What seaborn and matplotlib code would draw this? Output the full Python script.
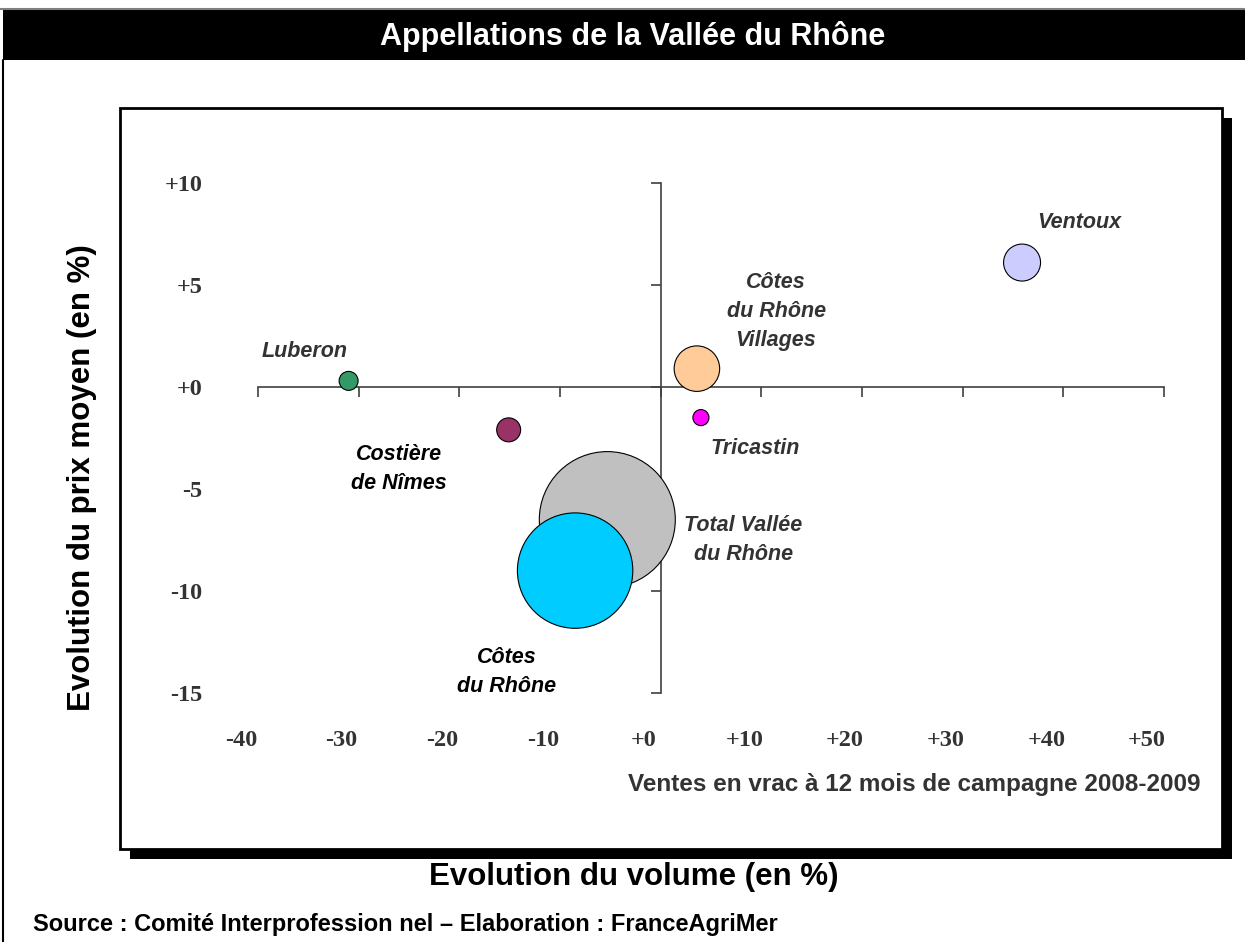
import matplotlib
matplotlib.use("Agg")
import matplotlib.pyplot as plt
from matplotlib.patches import Rectangle
from matplotlib.lines import Line2D
from matplotlib.transforms import ScaledTranslation
import seaborn as sns
import pandas as pd

# ---------------- data ----------------
appellations = ["Total Vallée du Rhône", "Côtes du Rhône", "Côtes du Rhône Villages",
                "Ventoux", "Costière de Nîmes", "Luberon", "Tricastin"]
vol_change = [-5.3, -8.5, 3.6, 35.9, -15.1, -31.0, 4.0]      # Evolution du volume (%)
price_change = [-6.5, -9.0, 0.9, 6.1, -2.1, 0.3, -1.5]       # Evolution du prix moyen (%)
bubble_size = [100, 72, 11.2, 7.4, 3.1, 1.95, 1.4]           # relative volume
colors = ["#C0C0C0", "#00CCFF", "#FFCC99", "#CCCCFF", "#993366", "#339966", "#FF00FF"]
labels = ["Total Vallée\ndu Rhône", "Côtes\ndu Rhône", "Côtes\ndu Rhône\nVillages",
          "Ventoux", "Costière\nde Nîmes", "Luberon", "Tricastin"]
label_colors = ["#333333", "#000000", "#333333", "#333333", "#000000", "#333333", "#333333"]
label_offsets = [(98, -15), (-49, -73), (57, 41), (41, 29), (-79, -28), (-32, 21), (39, -22)]

x_ticks = [-40, -30, -20, -10, 0, 10, 20, 30, 40, 50]
y_ticks = [10, 5, 0, -5, -10, -15]

df = pd.DataFrame({"appellation": appellations, "volume": vol_change,
                   "prix": price_change, "taille": bubble_size})

# ---------------- figure ----------------
W, H = 1245, 942
sns.set_theme(style="white")
plt.rcParams["font.family"] = ["Liberation Sans", "DejaVu Sans"]

fig = plt.figure(figsize=(W / 100, H / 100), dpi=100)
fig.patch.set_facecolor("white")


def fx(px):
    return px / W


def fy(py):
    return 1 - py / H


# decorations: title bar, frame, inner box with shadow
fig.add_artist(Line2D([0, 1], [fy(9), fy(9)], color="#808080", lw=1.5))
fig.add_artist(Rectangle((fx(3), fy(60)), fx(1245 - 3), 50 / H, facecolor="black",
                         edgecolor="none"))
fig.add_artist(Line2D([fx(3), fx(3)], [fy(60), 0], color="black", lw=1.5))
fig.add_artist(Rectangle((fx(130), fy(859)), fx(1232 - 130), (859 - 118) / H,
                         facecolor="black", edgecolor="none", zorder=0))
fig.add_artist(Rectangle((fx(120), fy(849)), fx(1222 - 120), (849 - 108) / H,
                         facecolor="white", edgecolor="black", lw=2, zorder=0.5))

fig.text(fx(633), fy(37), "Appellations de la Vallée du Rhône", color="white",
         fontsize=22, fontweight="bold", ha="center", va="center")
fig.text(fx(82), fy(478), "Evolution du prix moyen (en %)", rotation=90,
         fontsize=22.5, fontweight="bold", ha="center", va="center", color="black")
fig.text(fx(634), fy(877), "Evolution du volume (en %)", fontsize=22.5,
         fontweight="bold", ha="center", va="center", color="black")
fig.text(fx(33), fy(924), "Source : Comité Interprofession nel – Elaboration : FranceAgriMer",
         fontsize=17, fontweight="bold", ha="left", va="center", color="black")
fig.text(fx(1200), fy(784), "Ventes en vrac à 12 mois de campagne 2008-2009",
         fontsize=17.5, fontweight="bold", ha="right", va="center", color="#333333")

# ---------------- axes ----------------
ax = fig.add_axes([fx(258), fy(693), fx(1164 - 258), (693 - 183) / H])
ax.set_facecolor("none")
ax.set_zorder(2)

px_to_pt = 0.72
smax = (136 * px_to_pt) ** 2
sns.scatterplot(data=df, x="volume", y="prix", hue="appellation",
                palette=dict(zip(appellations, colors)), size="taille",
                sizes=(0, smax), size_norm=(0, 100), legend=False,
                edgecolor="black", linewidth=0.8, ax=ax, clip_on=False, zorder=3)

ax.set_xlim(x_ticks[0], x_ticks[-1])
ax.set_ylim(y_ticks[-1], y_ticks[0])
ax.set_xlabel("")
ax.set_ylabel("")

for side in ["top", "right"]:
    ax.spines[side].set_visible(False)
ax.spines["left"].set_position(("data", 0))
ax.spines["bottom"].set_position(("data", 0))
for side in ["left", "bottom"]:
    ax.spines[side].set_color("#404040")
    ax.spines[side].set_linewidth(1.2)
    ax.spines[side].set_zorder(1)
ax.set_xticks(x_ticks)
ax.set_yticks(y_ticks)
ax.tick_params(axis="both", direction="out", length=7, width=1.2, color="#404040",
               labelbottom=False, labelleft=False, bottom=True, left=True)

# tick labels placed at the plot edges
serif = {"family": ["Liberation Serif", "DejaVu Serif"], "weight": "bold", "size": 17.5}
secx = ax.secondary_xaxis("bottom")
secx.set_xticks(x_ticks)
secx.set_xticklabels([f"{v:+d}" if v >= 0 else f"{v:d}" for v in x_ticks],
                     fontdict=serif, color="#333333")
secx.tick_params(length=0, pad=27)
secx.spines["bottom"].set_visible(False)
shift = ScaledTranslation(-17 / 100, 0, fig.dpi_scale_trans)
for t in secx.get_xticklabels():
    t.set_transform(t.get_transform() + shift)

secy = ax.secondary_yaxis("left")
secy.set_yticks(y_ticks)
secy.set_yticklabels([f"{v:+d}" if v >= 0 else f"{v:d}" for v in y_ticks],
                     fontdict=serif, color="#333333")
secy.tick_params(length=0, pad=40)
secy.spines["left"].set_visible(False)

# bubble labels
for x, y, lab, col, off in zip(vol_change, price_change, labels, label_colors, label_offsets):
    ax.annotate(lab, (x, y), xytext=off, textcoords="offset points",
                ha="center", va="center", fontsize=15.5, fontweight="bold",
                fontstyle="italic", color=col, linespacing=1.5, annotation_clip=False)

fig.savefig("out.png", dpi=100)
